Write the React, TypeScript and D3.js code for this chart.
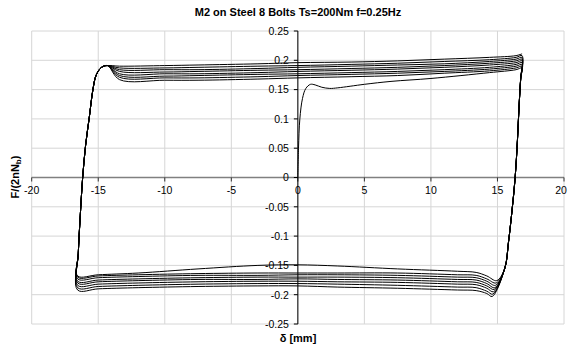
import * as d3 from "d3";
import { useEffect, useRef } from "react";

type Pt = [number, number];

// axis ticks
const xTicks = [-20, -15, -10, -5, 0, 5, 10, 15, 20];
const yTicks = [0.25, 0.2, 0.15, 0.1, 0.05, 0, -0.05, -0.1, -0.15, -0.2, -0.25];
const yTickLabels = ["0.25", "0.2", "0.15", "0.1", "0.05", "0", "-0.05", "-0.1", "-0.15", "-0.2", "-0.25"];

// first loading from rest
const initialLoading: Pt[] = [
  [0, 0], [0.05, 0.05], [0.15, 0.1], [0.35, 0.135], [0.6, 0.152], [0.95, 0.159],
  [1.3, 0.158], [1.8, 0.154], [2.4, 0.152], [3, 0.153], [5, 0.159], [7, 0.164],
  [10, 0.169], [14.4, 0.179], [16.4, 0.184], [16.85, 0.187],
];

// steep branch on the right (unloading), shared by all cycles
const downBranch: Pt[] = [
  [16.75, 0.17], [16.62, 0.12], [16.5, 0.063], [16.33, 0], [16.1, -0.055], [15.83, -0.11], [15.55, -0.155],
];
// steep branch on the left (reloading), shared by all cycles
const upBranch: Pt[] = [
  [-16.5, -0.13], [-16.35, -0.065], [-16.17, 0], [-15.95, 0.055], [-15.67, 0.103],
  [-15.4, 0.15], [-15.15, 0.175], [-14.75, 0.188], [-14.3, 0.191],
];

// lower-right dip of each cycle
const bottomDips: Pt[] = [
  [14.95, -0.176], [14.9, -0.18], [14.85, -0.184], [14.8, -0.188],
  [14.75, -0.191], [14.7, -0.195], [14.65, -0.199], [14.6, -0.203],
];

// sliding branch at negative force, read right to left
const bottomX = [14.2, 13.4, 12, 7.5, 3, 0, -3, -7.5, -12, -15, -16.55];
const bottomCycles: number[][] = [
  [-0.168, -0.162, -0.16, -0.156, -0.151, -0.149, -0.15, -0.156, -0.163, -0.166, -0.168],
  [-0.173, -0.167, -0.166, -0.163, -0.163, -0.163, -0.163, -0.164, -0.166, -0.168, -0.17],
  [-0.177, -0.171, -0.17, -0.167, -0.166, -0.166, -0.167, -0.167, -0.169, -0.171, -0.173],
  [-0.181, -0.175, -0.174, -0.171, -0.17, -0.17, -0.17, -0.171, -0.173, -0.175, -0.177],
  [-0.185, -0.179, -0.178, -0.175, -0.174, -0.173, -0.174, -0.174, -0.176, -0.178, -0.18],
  [-0.189, -0.183, -0.182, -0.179, -0.178, -0.177, -0.177, -0.178, -0.18, -0.182, -0.184],
  [-0.194, -0.188, -0.187, -0.184, -0.182, -0.181, -0.181, -0.182, -0.184, -0.186, -0.188],
  [-0.198, -0.193, -0.192, -0.189, -0.187, -0.185, -0.185, -0.186, -0.188, -0.19, -0.192],
];

// sliding branch at positive force, read left to right
const topX = [-13.4, -10, -7.5, -3, 0, 4, 7.5, 11, 14.4, 16.4];
const topCycles: number[][] = [
  [0.167, 0.166, 0.166, 0.168, 0.17, 0.172, 0.174, 0.178, 0.182, 0.187],
  [0.171, 0.17, 0.17, 0.172, 0.174, 0.176, 0.178, 0.181, 0.185, 0.19],
  [0.174, 0.173, 0.174, 0.176, 0.177, 0.179, 0.181, 0.184, 0.188, 0.193],
  [0.177, 0.177, 0.177, 0.179, 0.181, 0.183, 0.185, 0.188, 0.192, 0.196],
  [0.181, 0.18, 0.181, 0.183, 0.184, 0.186, 0.188, 0.191, 0.195, 0.199],
  [0.184, 0.184, 0.184, 0.186, 0.188, 0.19, 0.192, 0.194, 0.198, 0.202],
  [0.187, 0.187, 0.188, 0.19, 0.191, 0.193, 0.195, 0.198, 0.201, 0.205],
  [0.19, 0.191, 0.192, 0.194, 0.196, 0.197, 0.199, 0.202, 0.205, 0.208],
];
const topEnds: Pt[] = [
  [16.85, 0.19], [16.85, 0.193], [16.85, 0.196], [16.85, 0.199],
  [16.85, 0.202], [16.85, 0.205], [16.85, 0.208], [16.85, 0.211],
];

const font = "'Liberation Sans', Arial, Helvetica, sans-serif";

export default function App() {
  const svgRef = useRef<SVGSVGElement>(null);
  const w = 568;
  const h = 349;

  useEffect(() => {
    if (!svgRef.current) return;
    const svg = d3.select(svgRef.current);
    svg.selectAll("*").remove();

    const x = d3.scaleLinear().domain([-20, 20]).range([31.7, 564]);
    const y = d3.scaleLinear().domain([-0.25, 0.25]).range([324, 31]);

    svg.append("rect").attr("width", w).attr("height", h).attr("fill", "#fff");

    // gridlines
    const grid = svg.append("g").attr("stroke", "#d6d6d6").attr("stroke-width", 1);
    xTicks.forEach((t) => {
      grid.append("line")
        .attr("x1", x(t)).attr("x2", x(t))
        .attr("y1", y(0.25)).attr("y2", y(-0.25));
    });
    yTicks.forEach((t) => {
      grid.append("line")
        .attr("x1", x(-20)).attr("x2", x(20))
        .attr("y1", y(t)).attr("y2", y(t));
    });

    // x axis through F=0
    svg.append("line")
      .attr("x1", x(-20)).attr("x2", x(20))
      .attr("y1", y(0)).attr("y2", y(0))
      .attr("stroke", "#808080").attr("stroke-width", 1.6);
    xTicks.forEach((t) => {
      svg.append("line")
        .attr("x1", x(t)).attr("x2", x(t))
        .attr("y1", y(0)).attr("y2", y(0) + 4)
        .attr("stroke", "#333").attr("stroke-width", 1);
    });

    // y axis through delta=0
    svg.append("line")
      .attr("x1", x(0)).attr("x2", x(0))
      .attr("y1", y(0.25)).attr("y2", y(-0.25))
      .attr("stroke", "#000").attr("stroke-width", 1);
    yTicks.forEach((t) => {
      svg.append("line")
        .attr("x1", x(0) - 4).attr("x2", x(0))
        .attr("y1", y(t)).attr("y2", y(t))
        .attr("stroke", "#000").attr("stroke-width", 1);
    });

    // assemble the loading history into one continuous path
    const pts: Pt[] = [...initialLoading];
    topCycles.forEach((top, k) => {
      pts.push(...downBranch);
      pts.push(bottomDips[k]);
      bottomX.forEach((bx, i) => pts.push([bx, bottomCycles[k][i]]));
      pts.push(...upBranch);
      topX.forEach((tx, i) => pts.push([tx, top[i]]));
      pts.push(topEnds[k]);
    });

    const line = d3.line<Pt>()
      .x((d) => x(d[0]))
      .y((d) => y(d[1]))
      .curve(d3.curveCatmullRom.alpha(0.5));

    svg.append("path")
      .attr("d", line(pts))
      .attr("fill", "none")
      .attr("stroke", "#000")
      .attr("stroke-width", 1);

    // tick labels
    yTicks.forEach((t, i) => {
      svg.append("text")
        .attr("x", x(0) - 9)
        .attr("y", y(t) + 3.8)
        .attr("text-anchor", "end")
        .attr("font-size", 10.5)
        .attr("font-family", font)
        .attr("fill", "#000")
        .text(yTickLabels[i]);
    });
    xTicks.forEach((t) => {
      // keep the last label inside the picture, as the original does
      const lx = Math.min(x(t), w - 7);
      svg.append("text")
        .attr("x", lx)
        .attr("y", y(0) + 16)
        .attr("text-anchor", "middle")
        .attr("font-size", 10.5)
        .attr("font-family", font)
        .attr("fill", "#000")
        .text(String(t));
    });

    // titles
    svg.append("text")
      .attr("x", 298).attr("y", 16)
      .attr("text-anchor", "middle")
      .attr("font-size", 11).attr("font-weight", "bold")
      .attr("font-family", font)
      .text("M2 on Steel 8 Bolts Ts=200Nm f=0.25Hz");

    svg.append("text")
      .attr("x", 298).attr("y", 342)
      .attr("text-anchor", "middle")
      .attr("font-size", 11).attr("font-weight", "bold")
      .attr("font-family", font)
      .text("δ [mm]");

    const yl = svg.append("text")
      .attr("transform", `translate(19,177) rotate(-90)`)
      .attr("text-anchor", "middle")
      .attr("font-size", 11).attr("font-weight", "bold")
      .attr("font-family", font);
    yl.append("tspan").text("F/(2nN");
    yl.append("tspan").attr("font-size", 8).attr("dy", 2).text("b");
    yl.append("tspan").attr("dy", -2).text(")");
  }, []);

  return (
    <svg
      ref={svgRef}
      width={w}
      height={h}
      viewBox={`0 0 ${w} ${h}`}
      style={{ position: "absolute", left: 0, top: 0, display: "block" }}
    />
  );
}
